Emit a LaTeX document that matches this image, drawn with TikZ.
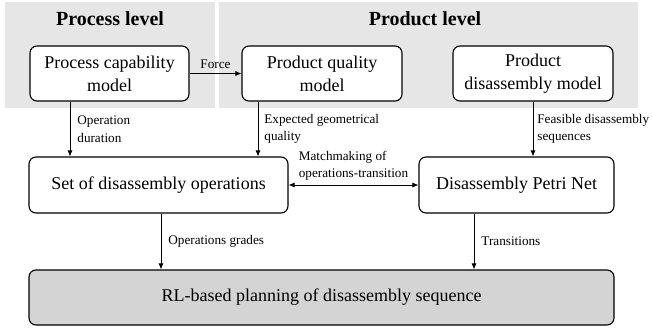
\documentclass[tikz,border=0pt]{standalone}
\usepackage{fontspec}
\setmainfont{Liberation Serif}
\usetikzlibrary{arrows.meta}

\definecolor{panelgray}{RGB}{230,230,230}
\definecolor{rlgray}{RGB}{212,212,212}

\begin{document}
\begin{tikzpicture}[x=1pt,y=-1pt,
	box/.style={draw, line width=1.1pt, rounded corners=7pt, fill=white, align=center,
		font=\fontsize{18}{23}\selectfont, inner sep=2pt},
	lbl/.style={font=\fontsize{13.2}{17.5}\selectfont, align=left, inner sep=1pt},
	>={Latex[length=6pt,width=5pt]}]

	\useasboundingbox (0,0) rectangle (652,329);
	\fill [panelgray] (5,2) rectangle (215,108);
	\fill [panelgray] (219,2) rectangle (638,108);
	\node (t1) at (110,19) {\fontsize{20}{24}\selectfont\bfseries Process level};
	\node (t2) at (425,19) {\fontsize{20}{24}\selectfont\bfseries Product level};

	\node [box, minimum width=159, minimum height=55] (v1) at (109.5,73.5) {Process capability\\model};
	\node [box, minimum width=160, minimum height=55] (v2) at (322,73.5) {Product quality\\model};
	\node [box, minimum width=160, minimum height=55] (v3) at (533,73.5) {Product\\disassembly model};
	\node [box, minimum width=259, minimum height=56] (v4) at (158.5,185) {Set of disassembly operations};
	\node [box, minimum width=195, minimum height=56] (v5) at (516.5,185) {Disassembly Petri Net};
	\node [box, fill=rlgray, minimum width=585, minimum height=55] (v6) at (321.5,297.5) {RL-based planning of disassembly sequence};

	\draw [->, line width=0.8pt]  (v1) -- node [lbl, above=3pt] {Force} (v2);
	\draw [->, line width=0.8pt]  (v1.south -| 70,0) -- node [lbl, right=6pt] {Operation\\duration} (v4.north -| 70,0);
	\draw [->, line width=0.8pt]  (v2.south -| 258,0) -- node [lbl, right=5pt] {Expected geometrical\\quality} (v4.north -| 258,0);
	\draw [->, line width=0.8pt]  (v3) -- node [lbl, right=3pt] {Feasible disassembly\\sequences} (v5.north -| v3.south);
	\draw [<->, line width=0.8pt] (v4) -- node [lbl, above=3pt] {Matchmaking of\\operations-transition} (v5);
	\draw [->, line width=0.8pt]  (v4.south -| 161,0) -- node [lbl, right=6pt] {Operations grades} (v6.north -| 161,0);
	\draw [->, line width=0.8pt]  (v5.south -| 474,0) -- node [lbl, right=6pt] {Transitions} (v6.north -| 474,0);

\end{tikzpicture}
\end{document}
